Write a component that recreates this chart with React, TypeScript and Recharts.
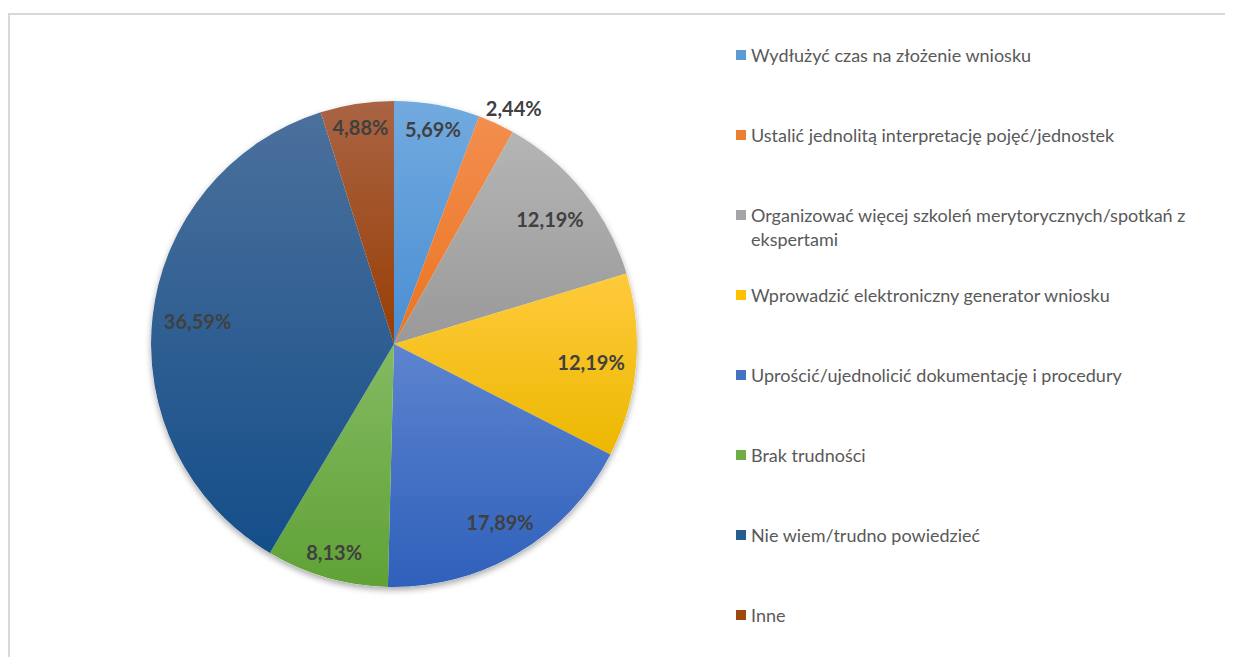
import React from 'react';
import { PieChart, Pie, Cell, Legend } from 'recharts';

const categories = [
  'Wydłużyć czas na złożenie wniosku',
  'Ustalić jednolitą interpretację pojęć/jednostek',
  'Organizować więcej szkoleń merytorycznych/spotkań z ekspertami',
  'Wprowadzić elektroniczny generator wniosku',
  'Uprościć/ujednolicić dokumentację i procedury',
  'Brak trudności',
  'Nie wiem/trudno powiedzieć',
  'Inne',
];
const values = [5.69, 2.44, 12.19, 12.19, 17.89, 8.13, 36.59, 4.88];
const baseColors = ['#5B9BD5', '#ED7D31', '#A5A5A5', '#FFC000', '#4472C4', '#70AD47', '#255E91', '#9E480E'];
const topColors = ['#72aadf', '#f28e4f', '#b5b5b5', '#ffca3c', '#5d84cf', '#83ba62', '#4b709c', '#aa6444'];
const bottomColors = ['#4a8ed3', '#ec741f', '#999999', '#ecb800', '#2f60bb', '#60a236', '#144e89', '#983e04'];

const data = categories.map((name, i) => ({ name, value: values[i] }));

const FONT = 'Lato, "Open Sans", sans-serif';
const RADIAN = Math.PI / 180;

const fmt = (v: number) => v.toFixed(2).replace('.', ',') + '%';

const renderLabel = (props: any) => {
  const { cx, cy, midAngle, outerRadius, value } = props;
  const text = fmt(value);
  const outside = value < 3;
  const angle = outside ? midAngle - 2 : midAngle;
  const halfW = text.length * 5.9;
  const halfH = 10;
  const cos = Math.cos(-angle * RADIAN);
  const sin = Math.sin(-angle * RADIAN);
  const extent = Math.abs(cos) * halfW + Math.abs(sin) * halfH;
  const r = outside ? outerRadius + 22 : outerRadius - 9 - extent;
  const x = cx + r * cos;
  const y = cy + r * sin;
  return (
    <text
      x={x}
      y={y}
      textAnchor="middle"
      dominantBaseline="central"
      fill="#404040"
      fontFamily={FONT}
      fontWeight={700}
      fontSize={20}
    >
      {text}
    </text>
  );
};

const LegendContent = () => (
  <div style={{ fontFamily: FONT, fontSize: 18, color: '#595959' }}>
    {categories.map((c, i) => (
      <div key={c} style={{ position: 'relative', height: 80 }}>
        <span
          style={{
            position: 'absolute',
            left: 0,
            top: 7,
            width: 10,
            height: 10,
            background: baseColors[i],
          }}
        />
        <div style={{ position: 'absolute', left: 15, top: 0, width: 460, lineHeight: '24px' }}>{c}</div>
      </div>
    ))}
  </div>
);

export default function App() {
  return (
    <div style={{ position: 'relative', width: 1225, height: 649, overflow: 'hidden' }}>
      <svg width={0} height={0} style={{ position: 'absolute' }}>
        <defs>
          {values.map((_, i) => (
            <linearGradient key={i} id={`grad${i}`} x1="0" y1="0" x2="0" y2="1">
              <stop offset="0%" stopColor={topColors[i]} />
              <stop offset="100%" stopColor={bottomColors[i]} />
            </linearGradient>
          ))}
          <filter id="pieShadow" x="-20%" y="-20%" width="140%" height="140%">
            <feDropShadow dx="0" dy="3" stdDeviation="3" floodColor="#000" floodOpacity="0.35" />
          </filter>
        </defs>
      </svg>
      <div
        style={{
          position: 'absolute',
          left: 0,
          top: 5,
          width: 1300,
          height: 800,
          border: '2px solid #d9d9d9',
          boxSizing: 'border-box',
        }}
      />
      <div style={{ position: 'absolute', left: 0, top: 0 }}>
        <PieChart width={1225} height={649} margin={{ top: 0, right: 0, bottom: 0, left: 0 }}>
          <Pie
            data={data}
            dataKey="value"
            nameKey="name"
            cx={386}
            cy={336}
            outerRadius={243}
            startAngle={90}
            endAngle={-270}
            stroke="none"
            fill="#ffffff"
            isAnimationActive={false}
          >
            {data.map((d, i) => (
              <Cell key={`s${i}`} fill="#ffffff" stroke="none" filter="url(#pieShadow)" />
            ))}
          </Pie>
          <Pie
            data={data}
            dataKey="value"
            nameKey="name"
            cx={386}
            cy={336}
            outerRadius={243}
            startAngle={90}
            endAngle={-270}
            stroke="none"
            isAnimationActive={false}
            labelLine={false}
            label={renderLabel}
          >
            {data.map((d, i) => (
              <Cell key={`c${i}`} fill={`url(#grad${i})`} stroke="none" />
            ))}
          </Pie>
          <Legend
            layout="vertical"
            align="right"
            verticalAlign="top"
            content={<LegendContent />}
            wrapperStyle={{ position: 'absolute', left: 728, top: 35, width: 480 }}
          />
        </PieChart>
      </div>
    </div>
  );
}
